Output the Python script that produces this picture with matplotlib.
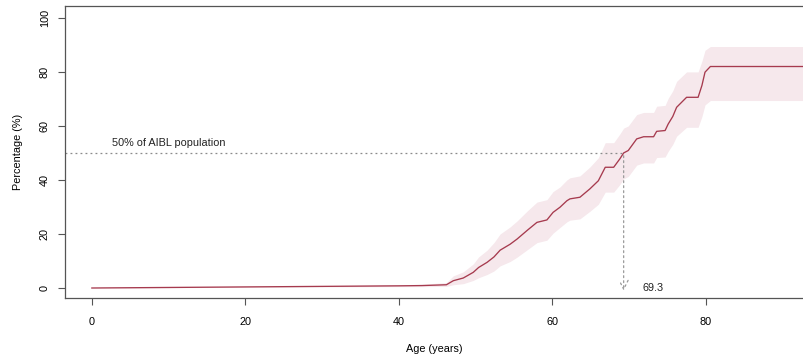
import matplotlib.pyplot as plt
import numpy as np

plt.rcParams['font.family'] = ['Liberation Sans', 'DejaVu Sans']

# cumulative percentage by age
age = [0, 10, 20, 30, 40, 43, 46.2, 47.1, 48.4, 49.7, 50.4, 51.5, 52.4, 53.2,
       54.5, 55.4, 56.8, 58.0, 59.3, 60.1, 61.0, 61.9, 62.3, 63.6, 64.9, 66.0,
       66.9, 68.0, 68.8, 69.3, 69.9, 71.0, 71.9, 73.2, 73.6, 74.7, 75.1, 75.7,
       76.2, 77.5, 79.0, 79.5, 79.9, 80.6, 95]
pct = [0, 0.2, 0.4, 0.6, 0.8, 0.9, 1.2, 2.7, 3.7, 5.8, 7.6, 9.5, 11.5, 14,
       16.2, 18.1, 21.5, 24.3, 25.2, 28, 29.9, 32.3, 33, 33.6, 36.7, 39.7,
       44.7, 44.7, 47.8, 50, 50.9, 55.2, 56, 56, 58, 58.3, 60.7, 63.5,
       66.9, 70.6, 70.6, 75, 79.9, 82, 82]
# confidence band
ci_low = [0, 0.1, 0.3, 0.4, 0.5, 0.5, 0.6, 1.2, 1.6, 2.8, 3.8, 5.0, 6.3, 8.2,
          9.8, 11.4, 14.3, 16.8, 17.7, 20.3, 22.4, 24.5, 25.1, 25.6, 28.4, 31.0,
          35.5, 35.5, 38.3, 40.4, 41.3, 45.5, 46.3, 46.3, 48.3, 48.5, 50.6, 53.2,
          56.2, 59.5, 59.5, 63.5, 67.8, 69.4, 69.4]
ci_high = [0, 0.4, 0.6, 0.9, 1.2, 1.4, 2.0, 4.5, 6.0, 8.9, 11.5, 14.0, 16.8, 20.0,
           22.6, 24.8, 28.7, 31.8, 32.7, 35.7, 37.4, 40.0, 40.8, 41.5, 44.8, 48.2,
           53.8, 53.8, 57.0, 59.2, 60.0, 64.2, 65.0, 65.0, 67.3, 67.6, 70.2, 73.0,
           76.5, 80.0, 80.0, 84.0, 88.0, 89.4, 89.4]

median_age = 69.3

fig = plt.figure(figsize=(8.04, 3.58), dpi=100)
ax = fig.add_axes([65 / 804, 60 / 358, 1 - 65 / 804, 292 / 358])

ax.fill_between(age, ci_low, ci_high, color="#f6e8ec", lw=0)
ax.plot(age, pct, color="#a63a4e", lw=0.95)

# 50% reference lines
ax.plot([-3.5, median_age], [50, 50], ls=(0, (1.5, 2.5)), color="#8a8a8a", lw=0.9)
ax.annotate("", xy=(median_age, -2.0), xytext=(median_age, 50),
            arrowprops=dict(arrowstyle="->", ls=(0, (1.5, 2.5)), color="#999999",
                            lw=0.9, mutation_scale=16))
ax.text(2.6, 52.5, "50% of AIBL population", fontsize=7.8, color="#222222")
ax.text(71.7, 0, "69.3", fontsize=7.8, color="#222222", va="center")

ax.set_xlim(-3.5, 92.8)
ax.set_ylim(-3.7, 104.4)
ax.set_xticks([0, 20, 40, 60, 80])
ax.set_yticks([0, 20, 40, 60, 80, 100])
ax.tick_params(axis="x", labelsize=7.8, length=5, direction="out", pad=9, color="#555555")
ax.tick_params(axis="y", labelsize=7.8, length=5, direction="out", pad=6, color="#555555",
               labelrotation=90)
for lbl in ax.get_yticklabels():
    lbl.set_va("center")
ax.spines["right"].set_visible(False)
for s in ["left", "top", "bottom"]:
    ax.spines[s].set_color("#555555")
    ax.spines[s].set_linewidth(0.9)

ax.set_xlabel("Age (years)", fontsize=7.8, labelpad=12)
ax.set_ylabel("Percentage (%)", fontsize=7.8, labelpad=12)

fig.savefig("out.png", dpi=100)
